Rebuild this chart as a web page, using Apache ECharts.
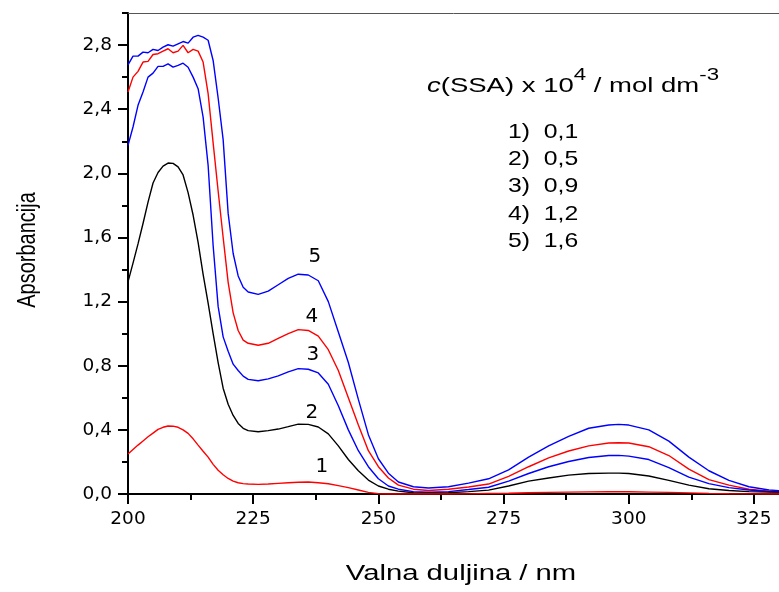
<!DOCTYPE html>
<html>
<head>
<meta charset="utf-8">
<script src="https://cdn.jsdelivr.net/npm/echarts@6/dist/echarts.min.js"></script>
<style>
html,body{margin:0;padding:0;background:#fff;}
#chart{width:779px;height:592px;}
</style>
</head>
<body>
<div id="chart"></div>
<script>
// wavelengths (nm)
const wl = [200,201,202,203,204,205,206,207,208,209,210,211,212,213,214,215,216,217,218,219,220,221,222,223,224,226,228,230,232,234,236,238,240,242,244,246,248,250,252,254,257,260,264,268,272,276,280,284,288,292,296,298,300,304,308,312,316,320,324,328,330];

// absorbance, curve 1 (0,1)
const a1 = [0.249,0.277,0.305,0.331,0.357,0.380,0.403,0.416,0.424,0.423,0.416,0.400,0.378,0.344,0.305,0.267,0.230,0.185,0.148,0.120,0.097,0.080,0.070,0.065,0.062,0.060,0.062,0.066,0.070,0.073,0.075,0.070,0.064,0.052,0.040,0.025,0.010,0.002,0,0,0,0,0,0.001,0.003,0.005,0.008,0.010,0.012,0.013,0.014,0.014,0.014,0.012,0.010,0.007,0.004,0.002,0.001,0,0];
// curve 2 (0,5)
const a2 = [1.323,1.440,1.560,1.687,1.820,1.940,2.005,2.045,2.064,2.062,2.040,1.990,1.880,1.740,1.570,1.370,1.190,1.000,0.820,0.660,0.560,0.490,0.440,0.410,0.395,0.388,0.395,0.405,0.420,0.436,0.434,0.418,0.375,0.300,0.215,0.145,0.087,0.050,0.030,0.018,0.008,0.006,0.008,0.015,0.024,0.050,0.080,0.100,0.118,0.128,0.130,0.130,0.128,0.112,0.085,0.055,0.033,0.022,0.015,0.012,0.012];
// curve 3 (0,9)
const a3 = [2.174,2.289,2.424,2.507,2.600,2.625,2.667,2.667,2.683,2.662,2.673,2.687,2.662,2.600,2.528,2.351,2.050,1.550,1.170,0.980,0.890,0.810,0.770,0.735,0.715,0.706,0.718,0.737,0.762,0.782,0.778,0.755,0.685,0.550,0.400,0.270,0.170,0.095,0.050,0.030,0.015,0.011,0.015,0.028,0.042,0.080,0.128,0.170,0.203,0.228,0.240,0.241,0.236,0.215,0.165,0.105,0.065,0.040,0.025,0.016,0.013];
// curve 4 (1,2)
const a4 = [2.507,2.600,2.636,2.694,2.698,2.741,2.746,2.762,2.777,2.752,2.762,2.798,2.752,2.773,2.762,2.694,2.497,2.190,1.890,1.600,1.320,1.130,1.020,0.960,0.940,0.928,0.940,0.970,1.000,1.025,1.020,0.985,0.900,0.770,0.600,0.430,0.270,0.170,0.100,0.055,0.030,0.022,0.030,0.044,0.062,0.110,0.170,0.225,0.268,0.300,0.318,0.320,0.318,0.295,0.240,0.155,0.090,0.055,0.030,0.017,0.013];
// curve 5 (1,6)
const a5 = [2.677,2.731,2.731,2.756,2.752,2.773,2.766,2.787,2.802,2.793,2.808,2.822,2.812,2.849,2.860,2.849,2.830,2.704,2.470,2.210,1.750,1.500,1.360,1.290,1.260,1.245,1.265,1.305,1.345,1.371,1.366,1.330,1.200,1.010,0.820,0.590,0.370,0.220,0.130,0.075,0.045,0.037,0.045,0.068,0.095,0.150,0.230,0.300,0.360,0.410,0.430,0.434,0.430,0.400,0.330,0.230,0.145,0.085,0.045,0.025,0.020];

const curveNames = ['1','2','3','4','5'];
const curveColors = ['#ff0000','#000000','#0000ff','#ff0000','#0000ff'];
const concLabels = ['1)  0,1','2)  0,5','3)  0,9','4)  1,2','5)  1,6'];
// label anchor points (wavelength, absorbance) for curve numbers
const labelAt = [[238.7,0.17],[236.7,0.505],[236.9,0.866],[236.7,1.103],[237.3,1.477]];

const xTicks = [200,225,250,275,300,325];
const xMinor = [212.5,237.5,262.5,287.5,312.5];
const yTicks = [0,0.4,0.8,1.2,1.6,2.0,2.4,2.8];
const yMinor = [0.2,0.6,1.0,1.4,1.8,2.2,2.6,3.0];

const curves = [a1,a2,a3,a4,a5];
const FONT = 'Liberation Sans, Arial, sans-serif';
const WIDE = 'DejaVu Sans, sans-serif';

const series = [];
for (let k = curves.length - 1; k >= 0; k--) {
  series.push({
    type: 'line',
    name: curveNames[k],
    data: wl.map((x, i) => [x, curves[k][i]]),
    showSymbol: false,
    symbol: 'none',
    lineStyle: { color: curveColors[k], width: 1.4 },
    clip: true,
    z: 3,
    markPoint: {
      symbol: 'circle', symbolSize: 0,
      label: { show: true, formatter: curveNames[k], color: '#000', fontSize: 20, fontFamily: WIDE, position: 'inside' },
      data: [{ coord: labelAt[k] }]
    }
  });
}

const chart = echarts.init(document.getElementById('chart'), null, { renderer: 'canvas' });
chart.setOption({
  animation: false,
  backgroundColor: '#fff',
  grid: { left: 128, top: 13, width: 655, height: 481, containLabel: false },
  xAxis: [
    {
      type: 'value', min: 200, max: 330, position: 'bottom',
      axisLine: { lineStyle: { color: '#000', width: 2 } },
      axisTick: { customValues: xTicks, length: 10, lineStyle: { color: '#000', width: 2 } },
      axisLabel: { customValues: xTicks, color: '#000', fontSize: 18.5, fontFamily: WIDE, margin: 16 },
      splitLine: { show: false }
    },
    {
      type: 'value', min: 200, max: 330, position: 'bottom',
      axisLine: { show: false },
      axisTick: { customValues: xMinor, length: 6, lineStyle: { color: '#000', width: 2 } },
      axisLabel: { show: false }, splitLine: { show: false }
    },
    {
      type: 'value', min: 200, max: 330, position: 'top',
      axisLine: { lineStyle: { color: '#555', width: 1 } },
      axisTick: { show: false }, axisLabel: { show: false }, splitLine: { show: false }
    }
  ],
  yAxis: [
    {
      type: 'value', min: 0, max: 3.0, position: 'left',
      axisLine: { lineStyle: { color: '#000', width: 2 } },
      axisTick: { customValues: yTicks, length: 10, lineStyle: { color: '#000', width: 2 } },
      axisLabel: { customValues: yTicks, color: '#000', fontSize: 18.5, fontFamily: WIDE, margin: 16,
        formatter: v => v.toFixed(1).replace('.', ',') },
      splitLine: { show: false }
    },
    {
      type: 'value', min: 0, max: 3.0, position: 'left',
      axisLine: { show: false },
      axisTick: { customValues: yMinor, length: 6, lineStyle: { color: '#000', width: 2 } },
      axisLabel: { show: false }, splitLine: { show: false }
    }
  ],
  series: series,
  graphic: [
    {
      type: 'text', x: 461, y: 574, scaleX: 1.33,
      style: { text: 'Valna duljina / nm', fontSize: 22, fontFamily: FONT, fill: '#000', align: 'center', verticalAlign: 'middle' }
    },
    {
      type: 'text', x: 28, y: 250, rotation: Math.PI / 2, scaleY: 1.3,
      style: { text: 'Apsorbancija', fontSize: 20, fontFamily: FONT, fill: '#000', align: 'center', verticalAlign: 'middle' }
    },
    {
      type: 'text', x: 427, y: 82, scaleX: 1.31,
      style: {
        text: '{i|c}{m|(SSA) x 10}{s|4}{m| / mol dm}{s|-3}',
        align: 'left', verticalAlign: 'middle',
        rich: {
          i: { fontSize: 21, fontStyle: 'italic', fontFamily: FONT, fill: '#000', verticalAlign: 'bottom', lineHeight: 30 },
          m: { fontSize: 21, fontFamily: FONT, fill: '#000', verticalAlign: 'bottom', lineHeight: 30 },
          s: { fontSize: 17, fontFamily: FONT, fill: '#000', verticalAlign: 'top', lineHeight: 17 }
        }
      }
    }
  ].concat(concLabels.map((t, i) => ({
    type: 'text', x: 508, y: 132 + i * 27.3, scaleX: 1.18,
    style: { text: t, fontSize: 21, fontFamily: FONT, fill: '#000', align: 'left', verticalAlign: 'middle' }
  })))
});
</script>
</body>
</html>
